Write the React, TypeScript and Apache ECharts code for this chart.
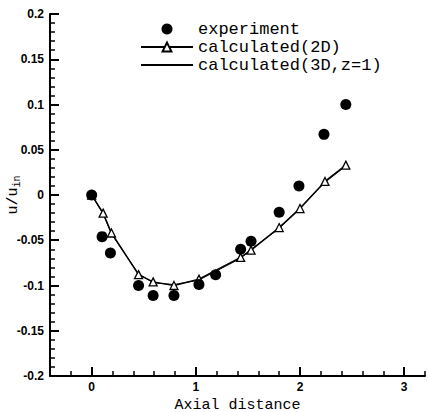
import React, { useEffect, useRef } from "react";
import * as echarts from "echarts";

const expX = [0, 0.1, 0.18, 0.45, 0.59, 0.79, 1.03, 1.19, 1.43, 1.53, 1.8, 1.99, 2.23, 2.44];
const expY = [0, -0.046, -0.064, -0.1, -0.111, -0.111, -0.099, -0.088, -0.06, -0.051, -0.019, 0.01, 0.067, 0.1];

const calc2DX = [0, 0.11, 0.19, 0.45, 0.59, 0.79, 1.03, 1.43, 1.53, 1.8, 2.0, 2.24, 2.44];
const calc2DY = [0, -0.02, -0.042, -0.088, -0.096, -0.1, -0.093, -0.069, -0.061, -0.036, -0.015, 0.015, 0.033];

const calc3DX = [0, 0.11, 0.19, 0.45, 0.59, 0.79, 1.03, 1.43, 1.53, 1.8, 2.0, 2.24, 2.44];
const calc3DY = [0, -0.021, -0.043, -0.087, -0.097, -0.099, -0.094, -0.07, -0.06, -0.037, -0.014, 0.014, 0.032];

const xMajorTicks = [0, 1, 2, 3];
const seriesNames = ["experiment", "calculated(2D)", "calculated(3D,z=1)"];

const zip = (xs: number[], ys: number[]) => xs.map((x, i) => [x, ys[i]]);

export default function App() {
  const ref = useRef<HTMLDivElement>(null);
  useEffect(() => {
    if (!ref.current) return;
    const chart = echarts.init(ref.current, null, { renderer: "svg" });
    const tickFont = { fontFamily: "Liberation Sans", fontWeight: "bold" as const, fontSize: 12, color: "#000" };
    chart.setOption({
      animation: false,
      backgroundColor: "#fff",
      grid: { left: 50, right: 3, top: 14, bottom: 36, containLabel: false, outerBoundsMode: "none" },
      legend: {
        orient: "vertical",
        left: 135,
        top: 15,
        itemWidth: 52,
        itemHeight: 11,
        itemGap: 0,
        data: [
          { name: seriesNames[0] },
          { name: seriesNames[1] },
          { name: seriesNames[2], itemStyle: { opacity: 0 } },
        ],
        textStyle: { fontFamily: "Liberation Mono", fontSize: 17, lineHeight: 18, color: "#000" },
      },
      xAxis: [
        {
          type: "value",
          min: -0.4,
          max: 3.2,
          name: "Axial distance",
          nameLocation: "middle",
          nameGap: 13,
          nameTextStyle: { fontFamily: "Liberation Mono", fontSize: 15, lineHeight: 15, color: "#000" },
          axisLine: { show: true, onZero: false, lineStyle: { color: "#000", width: 2 } },
          axisTick: { show: true, inside: true, length: 9, lineStyle: { color: "#000", width: 2 }, customValues: xMajorTicks },
          axisLabel: { ...tickFont, margin: 5, customValues: xMajorTicks },
          splitLine: { show: false },
        },
        {
          type: "value",
          min: -0.4,
          max: 3.2,
          interval: 0.2,
          position: "bottom",
          axisLine: { show: false, onZero: false },
          axisTick: { show: true, inside: true, length: 5, lineStyle: { color: "#000", width: 1.5 } },
          axisLabel: { show: false },
          splitLine: { show: false },
        },
      ],
      yAxis: {
        type: "value",
        min: -0.2,
        max: 0.2,
        interval: 0.05,
        name: "{a|u/u}{b|in}",
        nameLocation: "middle",
        nameGap: 28,
        nameMoveOverlap: false,
        nameRotate: 90,
        nameTextStyle: {
          rich: {
            a: { fontFamily: "Liberation Mono", fontSize: 15, color: "#000" },
            b: { fontFamily: "Liberation Mono", fontSize: 10, color: "#000", padding: [8, 0, 0, 0] },
          },
        },
        axisLine: { show: true, onZero: false, lineStyle: { color: "#000", width: 2 } },
        axisTick: { show: true, inside: true, length: 9, lineStyle: { color: "#000", width: 2 } },
        minorTick: { show: true, splitNumber: 5, length: 5, lineStyle: { color: "#000", width: 1.5 } },
        axisLabel: { ...tickFont, margin: 6 },
        splitLine: { show: false },
      },
      series: [
        {
          name: seriesNames[0],
          type: "scatter",
          data: zip(expX, expY),
          symbol: "circle",
          symbolSize: 11,
          itemStyle: { color: "#000", opacity: 1 },
          z: 3,
        },
        {
          name: seriesNames[1],
          type: "line",
          data: zip(calc2DX, calc2DY),
          symbol: "triangle",
          symbolSize: 8,
          showAllSymbol: true,
          lineStyle: { color: "#000", width: 1.5 },
          itemStyle: { color: "#fff", borderColor: "#000", borderWidth: 1.3 },
          z: 2,
        },
        {
          name: seriesNames[2],
          type: "line",
          data: zip(calc3DX, calc3DY),
          symbol: "none",
          lineStyle: { color: "#000", width: 1 },
          itemStyle: { color: "#000" },
          z: 1,
        },
      ],
    });
    return () => chart.dispose();
  }, []);
  return <div ref={ref} style={{ width: 428, height: 412, position: "absolute", left: 0, top: 0 }} />;
}
